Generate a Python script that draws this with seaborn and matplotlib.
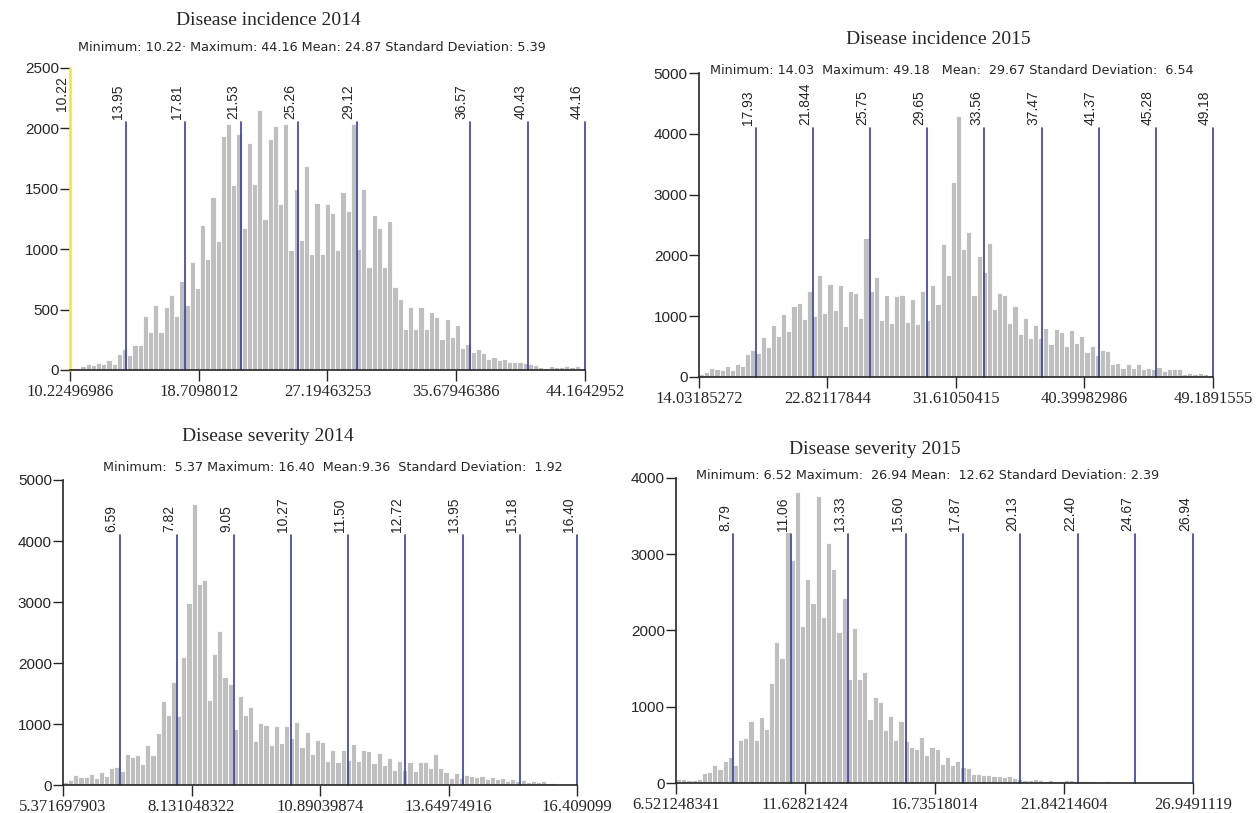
import numpy as np
import pandas as pd
import seaborn as sns
import matplotlib.pyplot as plt

sns.set_style('ticks')
plt.rcParams['font.family'] = ['DejaVu Sans']

# bar heights, left to right
inc14_counts = [20,20,35,50,45,60,50,80,50,135,170,120,205,205,445,315,535,315,525,620,
                445,735,535,890,680,1200,920,1430,1065,1940,2035,1530,1950,1175,1875,1540,2150,1250,1915,2020,
                1375,2040,990,1500,1080,1690,960,1385,960,1370,1300,990,1475,1320,2040,1000,
                1500,850,1280,1175,850,1230,690,590,340,520,340,520,340,480,440,260,420,270,370,180,215,150,
                175,140,95,105,85,90,65,70,65,55,50,40,25,15,30,25,25,30,25,30,20]
inc15_counts = [50,80,140,130,110,180,110,210,180,370,450,390,655,490,860,680,1040,750,1160,1220,
                950,1420,1000,1670,1050,1530,1100,1520,835,1420,1375,970,2280,1420,1640,945,1355,880,1340,1350,
                905,1285,865,1420,945,1520,1200,2180,1670,3210,4300,2100,2390,1355,1990,1735,2210,1125,1375,1355,
                890,1160,700,970,635,860,635,810,545,790,735,510,765,560,680,415,510,360,450,425,
                210,235,155,210,140,210,135,150,125,165,100,135,125,135,55,70,55,70,55,40]
sev14_counts = [45,80,165,130,130,185,120,220,150,285,300,230,510,465,490,350,650,495,850,1370,
                1150,1690,1125,2100,2990,4600,3295,3360,1400,2140,2525,1770,1650,920,1465,1140,1285,715,1015,990,
                660,960,685,960,770,1030,620,865,510,740,700,395,575,385,575,410,670,395,575,550,
                355,530,330,440,250,400,250,375,230,375,375,275,510,275,220,120,190,110,165,150,
                130,150,100,130,95,110,65,100,65,75,55,70,55,70,30,35,20,15,15,15]
sev15_counts = [55,55,35,45,55,125,145,235,190,290,340,235,560,585,815,560,870,705,1310,1850,
                1645,3285,2920,3820,2055,2670,2355,3760,2180,3150,2800,1975,2430,1360,2030,1360,1450,835,1125,1065,
                700,880,570,810,555,470,450,600,370,470,450,250,340,230,290,210,200,120,115,100,
                100,90,90,80,90,70,55,35,35,50,45,25,45,25,25,35,35,20,25,20,
                25,15,15,20,15,15,15,10,15,10,10,15,10,10,10,10,10,10,10,10]

inc14_ticks = ['10.22496986', '18.7098012', '27.19463253', '35.67946386', '44.1642952']
inc15_ticks = ['14.03185272', '22.82117844', '31.61050415', '40.39982986', '49.1891555']
sev14_ticks = ['5.371697903', '8.131048322', '10.89039874', '13.64974916', '16.409099']
sev15_ticks = ['6.521248341', '11.62821424', '16.73518014', '21.84214604', '26.9491119']

inc14_lines = ['13.95', '17.81', '21.53', '25.26', '29.12', '36.57', '40.43', '44.16']
inc15_lines = ['17.93', '21.844', '25.75', '29.65', '33.56', '37.47', '41.37', '45.28', '49.18']
sev14_lines = ['6.59', '7.82', '9.05', '10.27', '11.50', '12.72', '13.95', '15.18', '16.40']
sev15_lines = ['8.79', '11.06', '13.33', '15.60', '17.87', '20.13', '22.40', '24.67', '26.94']

titles = ['Disease incidence 2014', 'Disease incidence 2015', 'Disease severity 2014', 'Disease severity 2015']
stats = ['Minimum: 10.22· Maximum: 44.16 Mean: 24.87 Standard Deviation: 5.39',
         'Minimum: 14.03  Maximum: 49.18   Mean:  29.67 Standard Deviation:  6.54',
         'Minimum:  5.37 Maximum: 16.40  Mean:9.36  Standard Deviation:  1.92',
         'Minimum: 6.52 Maximum:  26.94 Mean:  12.62 Standard Deviation: 2.39']

BAR = '#bfbfbf'
BLUE = '#3b3ba6'
YELLOW = '#f0e04a'

fig = plt.figure(figsize=(12.58, 8.13), dpi=100)
rects = [[0.0556, 0.5449, 0.4094, 0.3715],
         [0.5556, 0.5363, 0.4086, 0.3739],
         [0.0501, 0.0344, 0.4086, 0.3752],
         [0.5374, 0.0369, 0.4110, 0.3752]]
title_pos = [(0.213, 0.975), (0.746, 0.951), (0.213, 0.4625), (0.6955, 0.4465)]
stats_pos = [(0.062, 0.942), (0.564, 0.9127), (0.0819, 0.4244), (0.553, 0.4157)]

panels = [(inc14_counts, inc14_ticks, inc14_lines, 2500, 500, 2050),
          (inc15_counts, inc15_ticks, inc15_lines, 5000, 1000, 4100),
          (sev14_counts, sev14_ticks, sev14_lines, 5000, 1000, 4100),
          (sev15_counts, sev15_ticks, sev15_lines, 4000, 1000, 3260)]

for i, (counts, ticks, lines, ymax, ystep, ltop) in enumerate(panels):
    ax = fig.add_axes(rects[i])
    lo, hi = float(ticks[0]), float(ticks[-1])
    edges = np.linspace(lo, hi, len(counts) + 1)
    df = pd.DataFrame({'mid': (edges[:-1] + edges[1:]) / 2, 'n': counts})
    sns.histplot(data=df, x='mid', weights='n', bins=len(counts), binrange=(lo, hi), ax=ax,
                 color=BAR, alpha=1, edgecolor='white', linewidth=0.6)
    ax.set_xlim(lo, hi)
    ax.set_ylim(0, ymax)
    ax.set_xlabel('')
    ax.set_ylabel('')
    ax.set_yticks(np.arange(0, ymax + 1, ystep))
    ax.set_xticks(np.linspace(lo, hi, 5))
    ax.set_xticklabels(ticks, family='Liberation Serif', fontsize=12)
    for lab in ax.get_yticklabels():
        lab.set_family('Liberation Sans')
        lab.set_fontsize(11)
    ax.tick_params(axis='y', length=7, width=1, pad=1)
    ax.tick_params(axis='x', length=8, width=1, pad=2)
    sns.despine(ax=ax)
    for sp in ['left', 'bottom']:
        ax.spines[sp].set_linewidth(1.2)

    for v in lines:
        x = float(v)
        ax.plot([x, x], [0, ltop], color=BLUE, lw=1.2, clip_on=False)
        ax.text(x - (hi - lo) * 0.002, ltop + ymax * 0.01, v, rotation=90, ha='right', va='bottom',
                fontsize=10, family='Liberation Sans', clip_on=False)
    if i == 0:
        ax.spines['left'].set_color(YELLOW)
        ax.spines['left'].set_linewidth(1.8)
        ax.text(lo - (hi - lo) * 0.002, 2140, ticks[0][:5], rotation=90, ha='right', va='bottom',
                fontsize=10, family='Liberation Sans', clip_on=False)

    fig.text(title_pos[i][0], title_pos[i][1], titles[i], ha='center', va='center',
             family='Liberation Serif', fontsize=14)
    fig.text(stats_pos[i][0], stats_pos[i][1], stats[i], ha='left', va='center', fontsize=9.2)

fig.savefig('out.png', dpi=100)
